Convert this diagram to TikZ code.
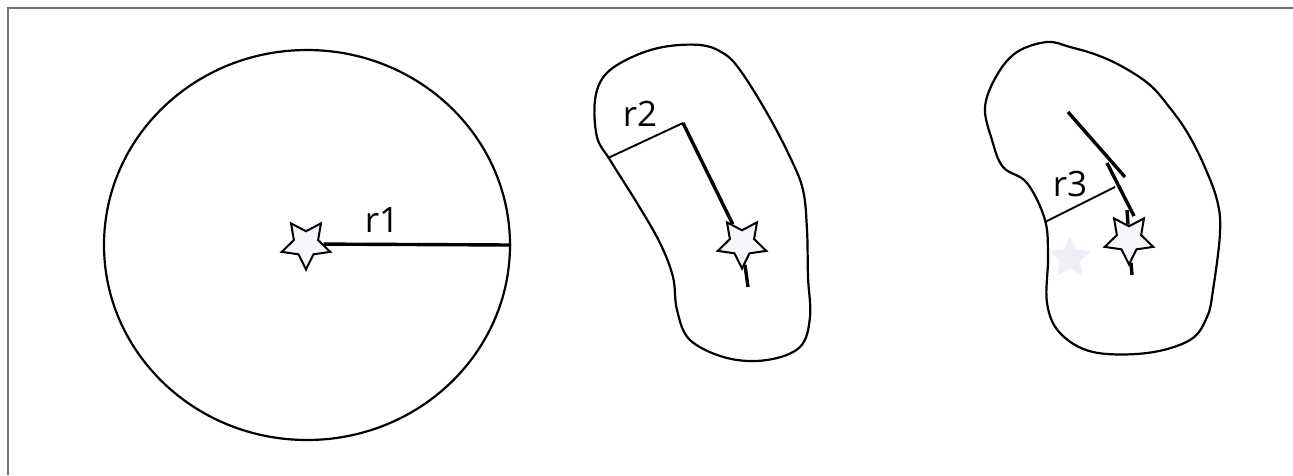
\documentclass[tikz,border=0pt]{standalone}
\usepackage{fontspec}
\setsansfont{Open Sans}
\usetikzlibrary{shapes.geometric, positioning}
\definecolor{seedfill}{HTML}{F5F6FA}
\definecolor{ghostfill}{HTML}{EEEEF4}

\begin{document}
\begin{tikzpicture}[x=1pt, y=-1pt, font=\sffamily\fontsize{35}{40}\selectfont,
    frame/.style={draw=black!55, line width=1.4pt},
    outline/.style={line width=2.2pt},
    reach/.style={line width=3.4pt},
    gap/.style={line width=1.9pt},
    seed/.style={star, star points=5, star point ratio=2, minimum size=51pt, inner sep=0pt, draw, line width=2pt, fill=seedfill, rotate=36},
    ghost/.style={star, star points=5, star point ratio=2.1, minimum size=44pt, inner sep=0pt, fill=ghostfill}]
    \useasboundingbox (0,0) rectangle (1293,475);
    \draw[frame] (8,475) -- (8,8) -- (1293,8);
    % (a) circle
    \begin{scope}
        \node[ellipse, draw, outline, minimum width=406pt, minimum height=390pt, inner sep=0pt] (disc) at (307,245) {};
        \node[seed] (s1) at (306,244) {};
        \coordinate (e1) at (disc.east);
        \draw[reach] (s1) -- (e1);
        \node (l1) at (382,220) {r1};
    \end{scope}
    % (b) elongated blob
    \begin{scope}
        \draw[outline] plot[smooth cycle, tension=0.6] coordinates {(663,47) (700,45) (723,53) (740,70) (767,113) (790,157) (803,190) (807,230) (808,277) (810,317) (800,347) (767,360) (727,358) (690,340) (677,310) (673,277) (660,243) (637,203) (610,160) (597,137) (595,100) (605,75) (630,58)};
        \node[seed] (s2) at (742,243) {};
        \coordinate (p2) at (683,123);
        \coordinate (b2) at (608,158);
        \coordinate (t2) at (748,287);
        \draw[gap] (b2) -- (p2);
        \draw[reach] (p2) -- (s2);
        \draw[reach] (s2) -- (t2);
        \node (l2) at (640,114) {r2};
    \end{scope}
    % (c) bent blob
    \begin{scope}
        \draw[outline] plot[smooth cycle, tension=0.6] coordinates {(1047,42) (1070,47) (1097,55) (1123,67) (1150,85) (1170,108) (1187,132) (1203,163) (1217,200) (1220,233) (1213,290) (1207,317) (1190,340) (1147,353) (1093,352) (1060,333) (1047,303) (1048,257) (1045,220) (1027,183) (1003,167) (992,140) (985,107) (997,75) (1017,52)};
        \node[ghost] (g3) at (1070,258) {};
        \node[seed] (s3) at (1129,239) {};
        \coordinate (a3) at (1068,112);
        \coordinate (z3) at (1125,177);
        \coordinate (k3) at (1107,163);
        \coordinate (m3) at (1134,216);
        \coordinate (n3) at (1127,210);
        \coordinate (b3) at (1045,222);
        \coordinate (p3) at (1115,187);
        \coordinate (t3) at (1132,275);
        \draw[reach] (a3) -- (z3);
        \draw[reach] (k3) -- (m3);
        \draw[reach] (n3) -- (s3);
        \draw[reach] (s3) -- (t3);
        \draw[gap] (b3) -- (p3);
        \node (l3) at (1070,184) {r3};
    \end{scope}
\end{tikzpicture}
\end{document}
